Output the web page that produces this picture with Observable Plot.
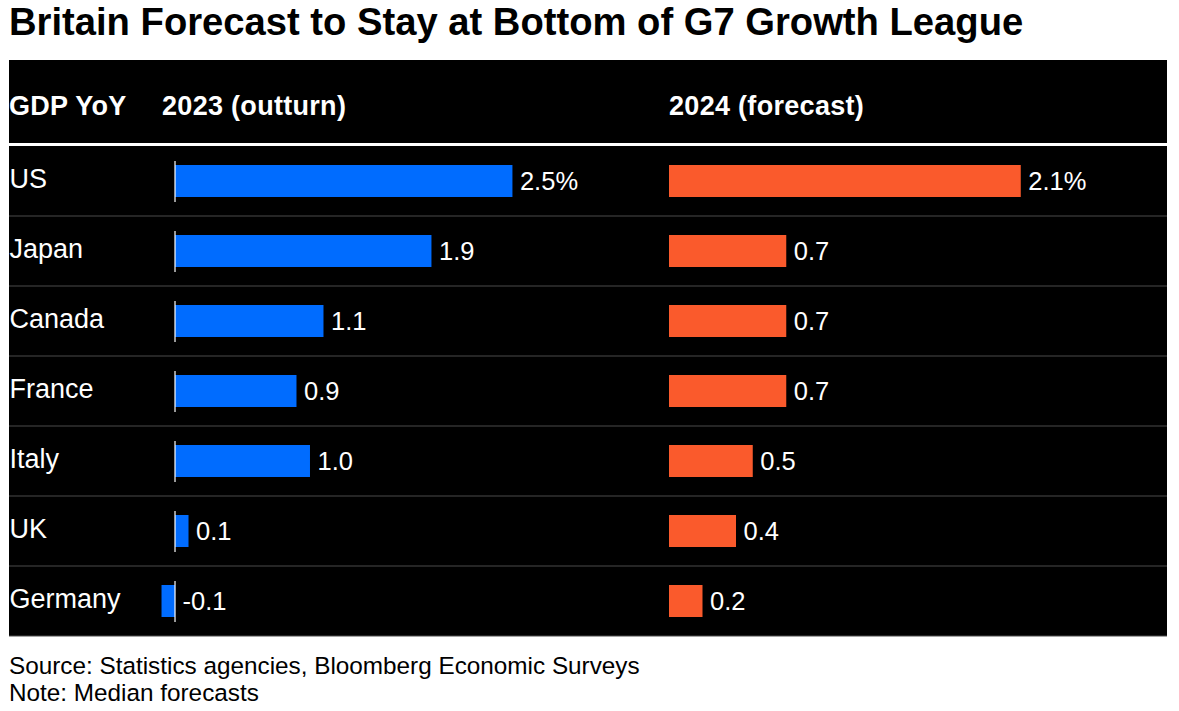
<!DOCTYPE html>
<html>
<head>
<meta charset="utf-8">
<script src="https://cdn.jsdelivr.net/npm/d3@7"></script>
<script src="https://cdn.jsdelivr.net/npm/@observablehq/plot@0.6"></script>
<style>
  body { margin: 0; background: #fff; font-family: "Liberation Sans", Arial, sans-serif; width: 1179px; height: 711px; position: relative; overflow: hidden; }
  #title { position: absolute; left: 9px; top: 3px; font-size: 38.2px; font-weight: bold; line-height: 1; color: #000; white-space: nowrap; }
  #panel { position: absolute; left: 9px; top: 60px; width: 1158px; height: 576px; background: #000; }
  .hdr { position: absolute; top: 33px; font-size: 27px; letter-spacing: 0.3px; font-weight: bold; color: #fff; line-height: 1; white-space: nowrap; }
  #hline { position: absolute; left: 0; top: 83px; width: 1158px; height: 3px; background: #fff; }
  #plots { position: absolute; left: 0; top: 86px; display: flex; }
  #foot { position: absolute; left: 9px; top: 652px; font-size: 24.3px; line-height: 27px; color: #000; white-space: nowrap; }
</style>
</head>
<body>
<div id="title">Britain Forecast to Stay at Bottom of G7 Growth League</div>
<div id="panel">
  <div class="hdr" style="left:0px">GDP YoY</div>
  <div class="hdr" style="left:153px">2023 (outturn)</div>
  <div class="hdr" style="left:660px">2024 (forecast)</div>
  <div id="hline"></div>
  <div id="plots"></div>
</div>
<div id="foot">Source: Statistics agencies, Bloomberg Economic Surveys<br>Note: Median forecasts</div>
<script>
const countries = ["US", "Japan", "Canada", "France", "Italy", "UK", "Germany"];
const gdp2023 = [2.5, 1.9, 1.1, 0.9, 1.0, 0.1, -0.1];
const gdp2024 = [2.1, 0.7, 0.7, 0.7, 0.5, 0.4, 0.2];

const rows23 = countries.map((c, i) => ({country: c, value: gdp2023[i], first: i === 0}));
const rows24 = countries.map((c, i) => ({country: c, value: gdp2024[i], first: i === 0}));
const fmt = d => d.value.toFixed(1) + (d.first ? "%" : "");

const common = {
  height: 490,
  marginTop: 0, marginBottom: 0, marginLeft: 0, marginRight: 0,
  style: {background: "transparent", color: "#fff", fontFamily: "Liberation Sans, Arial, sans-serif", overflow: "visible"},
  y: {domain: countries, padding: 0, axis: null}
};

const left = Plot.plot({
  ...common,
  width: 660,
  x: {domain: [-1.23, 3.66], axis: null},
  marks: [
    Plot.ruleY(countries, {y: d => d, dy: 34.5, stroke: "#4a4a4a", strokeWidth: 1.2}),
    Plot.text(countries, {y: d => d, text: d => d, frameAnchor: "left", textAnchor: "start", fill: "#fff", fontSize: 27, dy: -2}),
    Plot.barX(rows23, {x1: 0, x2: "value", y: "country", fill: "#006cff", insetTop: 19, insetBottom: 19}),
    Plot.tickX(rows23, {x: 0, y: "country", stroke: "#fff", strokeWidth: 1.2, dx: -0.5, insetTop: 15, insetBottom: 14}),
    Plot.text(rows23, {x: d => Math.max(0, d.value), y: "country", text: fmt, textAnchor: "start", dx: 7, fill: "#fff", fontSize: 25.5})
  ]
});

const right = Plot.plot({
  ...common,
  width: 498,
  x: {domain: [0, 2.973], axis: null},
  marks: [
    Plot.ruleY(countries, {y: d => d, dy: 34.5, stroke: "#4a4a4a", strokeWidth: 1.2}),
    Plot.barX(rows24, {x1: 0, x2: "value", y: "country", fill: "#fa5a2c", insetTop: 19, insetBottom: 19}),
    Plot.text(rows24, {x: d => Math.max(0, d.value), y: "country", text: fmt, textAnchor: "start", dx: 7, fill: "#fff", fontSize: 25.5})
  ]
});

document.getElementById("plots").append(left, right);
</script>
</body>
</html>
